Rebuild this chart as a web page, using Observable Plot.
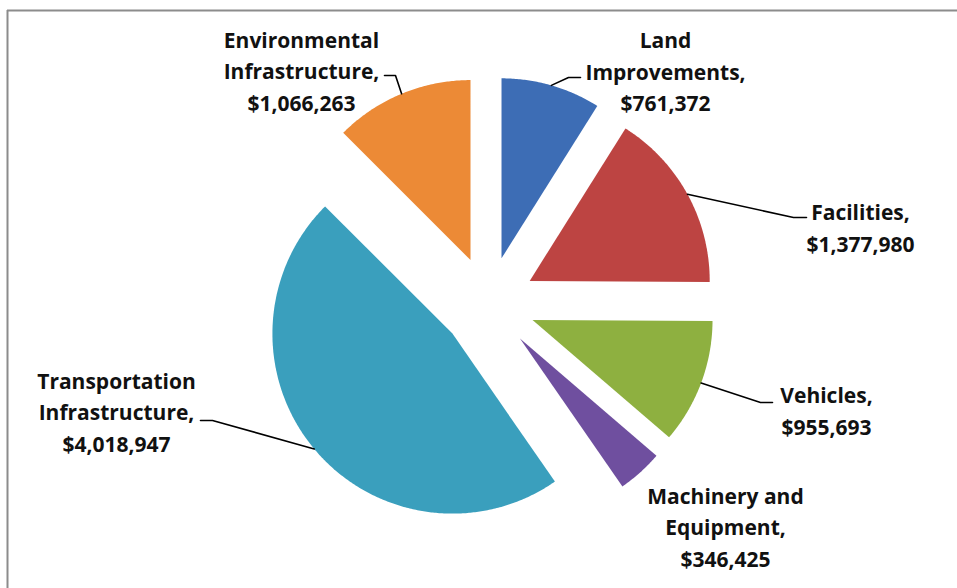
<!DOCTYPE html>
<html>
<head>
<meta charset="utf-8">
<script src="https://cdn.jsdelivr.net/npm/d3@7"></script>
<script src="https://cdn.jsdelivr.net/npm/@observablehq/plot@0.6"></script>
<style>
  html, body { margin: 0; padding: 0; background: #fff; }
  #chart svg { display: block; }
  #chart svg text { font-variant-ligatures: none; }
</style>
</head>
<body>
<div id="chart"></div>
<script>
// ---- data ----
const categories = ["Land Improvements", "Facilities", "Vehicles", "Machinery and Equipment", "Transportation Infrastructure", "Environmental Infrastructure"];
const values = [761372, 1377980, 955693, 346425, 4018947, 1066263];
const labelLines = [["Land", "Improvements,"], ["Facilities,"], ["Vehicles,"], ["Machinery and", "Equipment,"], ["Transportation", "Infrastructure,"], ["Environmental", "Infrastructure,"]];
const colors = ["#3d6db5", "#bd4442", "#8eb040", "#6f4f9f", "#3a9fbd", "#ec8a36"];

// ---- layout (pixels relative to pie centre, y up) ----
const R = 180, explode = 47;
// label block centre, and leader elbow/end (null = no leader)
const labelPos = [[177, 234], [372, 77.5], [338, -105.5], [237, -221.5], [-372, -106.5], [-187, 234.5]];
const leaderElbow = [[80, 226], [305, 86], [272, -99], null, [-276, -117], [-93, 228]];
const leaderEnd = [[92, 226], [318, 86], [284, -99], null, [-288, -117], [-104, 228]];

const fmt = d3.format(",");
const arcs = d3.pie().sort(null).value(d => d)(values);

const slicePts = [];
const leaders = [];
const labels = [];
arcs.forEach((a, i) => {
  const name = categories[i];
  const mid = (a.startAngle + a.endAngle) / 2;
  const ox = explode * Math.sin(mid), oy = explode * Math.cos(mid);
  slicePts.push({name, x: ox, y: oy});
  const n = Math.max(2, Math.ceil((a.endAngle - a.startAngle) / (Math.PI / 360)));
  for (let k = 0; k <= n; k++) {
    const t = a.startAngle + (a.endAngle - a.startAngle) * k / n;
    slicePts.push({name, x: ox + R * Math.sin(t), y: oy + R * Math.cos(t)});
  }
  slicePts.push({name, x: ox, y: oy});
  if (leaderElbow[i]) {
    const r = R + explode;
    leaders.push({name, x: r * Math.sin(mid), y: r * Math.cos(mid)});
    leaders.push({name, x: leaderElbow[i][0], y: leaderElbow[i][1]});
    leaders.push({name, x: leaderEnd[i][0], y: leaderEnd[i][1]});
  }
  labels.push({name, x: labelPos[i][0], y: labelPos[i][1], text: [...labelLines[i], "$" + fmt(values[i])].join("\n")});
});

const chart = Plot.plot({
  width: 957,
  height: 588,
  margin: 0,
  x: {domain: [-488, 469], axis: null},
  y: {domain: [-285, 303], axis: null},
  color: {domain: categories, range: colors},
  marks: [
    Plot.ruleY([293], {x1: -481, x2: 469, stroke: "#8c8c8c", strokeWidth: 2}),
    Plot.ruleX([-481], {y1: 293, y2: -285, stroke: "#8c8c8c", strokeWidth: 2}),
    Plot.line(slicePts, {x: "x", y: "y", z: "name", fill: "name", stroke: "none", curve: "linear"}),
    Plot.line(leaders, {x: "x", y: "y", z: "name", stroke: "#000", strokeWidth: 1.6}),
    Plot.text(labels, {x: "x", y: "y", text: "text", fill: "#111", fontSize: 21, fontWeight: "bold", fontFamily: "Open Sans", lineHeight: 1.5, textAnchor: "middle"})
  ]
});
document.getElementById("chart").appendChild(chart);
</script>
</body>
</html>
